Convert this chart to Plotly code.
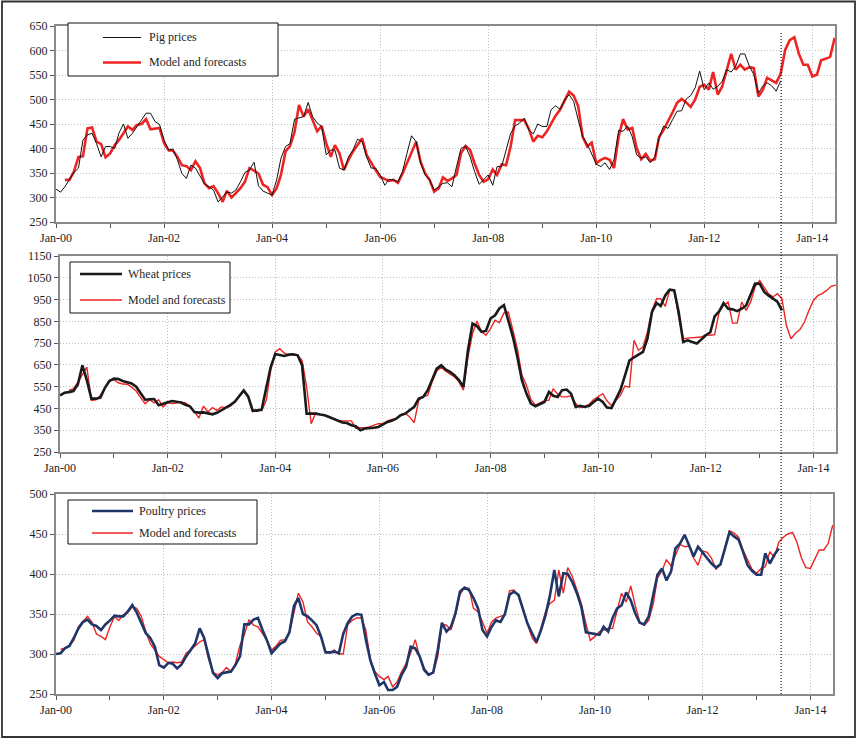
import pandas as pd
import plotly.graph_objects as go

# ---------------------------------------------------------------- data
# Monthly observations start in Jan 2000; the model/forecast runs to Jun 2014.
months = pd.date_range("2000-01-01", periods=174, freq="MS")
forecast_origin = "2013-06-04"

pig_actual = [
    317, 311, 322, 336, 351, 360, 417, 428, 431, 410, 383, 404, 404, 400, 431, 450,
    421, 431, 445, 457, 472, 472, 455, 449, 417, 397, 399, 377, 349, 339, 366, 360,
    343, 328, 322, 315, 291, 302, 311, 309, 315, 332, 351, 356, 372, 324, 313, 309,
    305, 336, 380, 404, 410, 460, 462,
    465, 494, 465, 452, 445, 387, 397, 397, 360, 356, 383, 397, 419, 414, 383, 360,
    360, 346, 325, 337, 336, 332, 353, 390, 426, 414, 370, 346, 336, 315, 322, 329,
    330, 322, 363, 400, 405, 383, 353, 327, 336, 346, 325, 363, 363, 394, 431, 446,
    452, 462, 438, 430, 450, 445, 445, 479, 487, 480, 499, 510, 496, 458, 424, 409,
    390, 368, 363, 371, 357,
    377, 437, 435, 446, 424, 387, 380, 383, 371, 383, 421, 446, 441, 459, 476, 477,
    501, 508, 524, 558, 520, 534, 521, 527, 537, 561, 556, 568, 593, 593, 568, 551,
    513, 528, 534, 528, 517, 538,
]
pig_model_start = 2
pig_model = [
    336, 336, 353, 383, 384, 441, 443, 414, 409, 382, 390, 407, 417, 431, 445, 438,
    448, 450, 460, 439, 441, 442, 411, 396, 396, 383, 366, 364, 356, 374, 360, 329,
    319, 323, 309, 291, 314, 300, 309, 319, 332, 360, 355, 349, 326, 321, 305, 319,
    346, 394, 405, 434, 489,
    465, 480, 458, 435, 446, 411, 383, 407, 390, 356, 377, 394, 407, 421, 387, 370,
    356, 342, 337, 334, 336, 330, 349, 370, 390, 414, 373, 349, 336, 312, 319, 341,
    334, 339, 346, 390, 405, 397, 370, 346, 332, 337, 357, 346, 368, 366, 404, 458,
    458, 458, 441, 414, 426, 423, 435, 450, 467, 479, 499, 516, 508, 486, 424, 404,
    412, 370, 377, 381, 377,
    360, 424, 460, 439, 442, 401, 378, 389, 375, 378, 423, 438, 455, 474, 493, 501,
    494, 485, 500, 526, 530, 520, 556, 510, 526, 560, 593, 561, 571, 561, 566, 564,
    506, 520, 544, 539, 534, 553, 601, 621, 627, 594, 571, 571, 547, 551, 580, 583,
    587, 626,
]

wheat_actual = [
    510, 522, 525, 530, 560, 648, 580, 495, 495, 500, 545, 576, 587, 585, 576, 571,
    565, 550, 520, 490, 492, 493, 465, 470, 478, 484, 480, 477, 467, 460, 434, 431,
    432, 427, 423, 430, 441, 454, 465, 480, 505, 533, 505, 440, 440, 445, 545, 640,
    700, 694, 691, 697,
    699, 694, 648, 426, 426, 426, 422, 419, 411, 403, 396, 385, 383, 373, 368, 350,
    358, 358, 361, 365, 377, 388, 393, 403, 419, 426, 442, 457, 495, 503, 534, 580,
    633, 648, 629, 618, 603, 580, 549, 717, 840, 828, 802, 806, 863, 878, 909, 924,
    855, 779, 687, 580, 518, 472, 460, 469, 480, 526, 508, 503, 534, 537, 518, 457,
    462, 457, 462, 480, 495, 480, 454,
    452, 490, 535, 600, 670, 685, 698, 710, 770, 893, 934, 920, 969, 995, 992, 893,
    755, 763, 755, 748, 766, 786, 800, 873, 896, 934, 908, 905, 897, 908, 923, 977,
    1023, 1023, 985, 969, 954, 940, 900,
]
wheat_model_start = 2
wheat_model = [
    533, 541, 570, 605, 640, 487, 490, 510, 548, 579, 582, 568, 562, 561, 548, 530,
    500, 472, 490, 475, 490, 457, 477, 472, 475, 480, 475, 460, 435, 406, 461, 434,
    454, 441, 457, 454, 460, 480, 505, 530, 500, 435, 445, 440, 487, 625, 709, 724,
    705, 694, 698, 694,
    671, 549, 380, 429, 423, 419, 411, 403, 396, 393, 393, 393, 358, 362, 362, 365,
    373, 380, 380, 393, 399, 403, 419, 429, 411, 385, 488, 503, 511, 572, 622, 639,
    622, 610, 595, 572, 534, 687, 794, 852, 802, 786, 817, 855, 843, 889, 893, 809,
    725, 603, 557, 491, 465, 475, 485, 488, 541, 515, 503, 503, 508, 472, 454, 460,
    469, 491, 503, 518, 485,
    464, 487, 510, 553, 548, 763, 717, 732, 801, 900, 954, 954, 919, 992, 995, 870,
    770, 773, 775, 777, 778, 789, 786, 789, 893, 923, 939, 842, 842, 939, 900, 939,
    1008, 1038, 1008, 977, 962, 977, 954, 832, 770, 795, 812, 847, 900, 946, 969,
    977, 992, 1011, 1016,
]

poultry_actual = [
    300, 301, 307, 310, 320, 332, 340, 343, 337, 335, 330, 337, 342, 348, 347, 347,
    353, 361, 352, 338, 326, 320, 309, 286, 283, 289, 288, 282, 287, 297, 305, 313,
    332, 320, 297, 276, 270, 276, 277, 278, 286, 297, 337, 337, 343, 345, 330, 317,
    301, 307, 313, 316, 327, 360, 370,
    350, 347, 342, 336, 322, 302, 302, 303, 301, 325, 339, 347, 350, 349, 318, 292,
    276, 261, 265, 255, 255, 259, 274, 284, 309, 307, 297, 280, 274, 277, 305, 339,
    328, 334, 351, 378, 383, 380, 370, 357, 330, 322, 334, 342, 340, 350, 374, 378,
    374, 357, 338, 326, 315, 330, 349, 372, 405, 372, 401, 400, 390, 376, 359, 327,
    326, 325, 324, 334, 328,
    345, 357, 361, 377, 367, 351, 339, 337, 347, 374, 399, 407, 392, 403, 432, 438,
    449, 436, 422, 434, 427, 421, 413, 408, 412, 432, 452, 447, 443, 428, 411, 404,
    399, 399, 426, 413, 424, 432,
]
poultry_model_start = 1
poultry_model = [
    306, 307, 311, 317, 334, 340, 347, 340, 325, 322, 318, 334, 347, 342, 349, 352,
    359, 357, 347, 328, 313, 305, 297, 293, 289, 290, 289, 290, 301, 305, 310, 315,
    318, 293, 277, 274, 277, 283, 278, 288, 311, 324, 343, 336, 334, 325, 317, 305,
    310, 317, 318, 326, 350, 376,
    365, 340, 334, 326, 322, 303, 301, 305, 300, 300, 337, 342, 345, 345, 330, 292,
    278, 272, 268, 272, 259, 265, 278, 288, 301, 318, 297, 282, 275, 276, 297, 337,
    336, 330, 349, 374, 383, 382, 357, 353, 340, 326, 340, 345, 347, 349, 379, 380,
    372, 355, 338, 320, 313, 334, 353, 363, 367, 405, 376, 408, 397, 380, 363, 338,
    317, 322, 328, 330, 332,
    332, 355, 376, 365, 385, 361, 340, 336, 342, 363, 395, 404, 418, 410, 424, 437,
    434, 435, 420, 411, 429, 427, 420, 406, 412, 432, 454, 451, 446, 430, 418, 406,
    401, 407, 409, 428, 421, 440, 446, 450, 452, 440, 420, 408, 407, 420, 430, 430,
    438, 461,
]

actual_names = ["Pig prices", "Wheat prices", "Poultry prices"]
model_name = "Model and forecasts"
y_ranges = [(250, 650), (250, 1150), (250, 500)]
y_steps = [50, 100, 50]

# ---------------------------------------------------------------- styling
W, H = 859, 740
FONT = "Liberation Serif, Times New Roman, serif"
TEXT = "#1e1e1e"
RED = "#ee2424"
actual_colors = ["#111111", "#1a1a1a", "#1f3668"]
actual_widths = [1.0, 2.6, 2.6]
model_widths = [2.6, 1.4, 1.4]
GRID = "#bdbdbd"

# panel boxes in pixels: (left, right, top, bottom)
panels = [(56, 835, 26, 222), (60, 836, 256, 452), (56, 833, 494, 694)]
# legend boxes: (left, right, top, bottom, line_x0, line_x1, text_x, row1_y, row2_y)
legend_boxes = [
    (68, 278, 23, 76, 103, 141, 147, 37.5, 62.5),
    (70, 230, 262, 313, 80, 122, 126, 274, 300),
    (68, 257, 500, 544, 92, 133, 137, 511, 533),
]


def fx(px):
    return px / W


def fy(py):
    return 1 - py / H


series = [
    (pig_actual, pig_model, pig_model_start),
    (wheat_actual, wheat_model, wheat_model_start),
    (poultry_actual, poultry_model, poultry_model_start),
]

fig = go.Figure()
layout = dict(
    width=W, height=H,
    margin=dict(l=0, r=0, t=0, b=0, autoexpand=False),
    paper_bgcolor="white", plot_bgcolor="white",
    showlegend=False,
    font=dict(family=FONT, size=12, color=TEXT),
)
shapes = []
annotations = []

for i, (actual, model, start) in enumerate(series):
    k = "" if i == 0 else str(i + 1)
    xa, ya = "x" + k, "y" + k
    fig.add_trace(go.Scatter(
        x=months[start:start + len(model)], y=model, xaxis=xa, yaxis=ya,
        mode="lines", name=model_name,
        line=dict(color=RED, width=model_widths[i]),
    ))
    fig.add_trace(go.Scatter(
        x=months[:len(actual)], y=actual, xaxis=xa, yaxis=ya,
        mode="lines", name=actual_names[i],
        line=dict(color=actual_colors[i], width=actual_widths[i]),
    ))

    left, right, top, bottom = panels[i]
    layout["xaxis" + k] = dict(
        domain=[fx(left), fx(right)], anchor=ya, automargin=False,
        type="date", range=["2000-01-01", "2014-06-03"],
        tick0="2000-01-01", dtick="M24", tickformat="%b-%y",
        ticks="outside", ticklen=4, tickwidth=1, tickcolor="#555555",
        showgrid=True, gridcolor=GRID, griddash="1px,2px", gridwidth=1,
        minor=dict(tick0="2000-01-01", dtick="M12", ticks="outside",
                   ticklen=4, tickcolor="#555555", showgrid=False),
        showline=True, linecolor="#8a8a8a", linewidth=2, mirror=True,
        tickfont=dict(family=FONT, size=12, color=TEXT),
        zeroline=False, fixedrange=True,
    )
    lo, hi = y_ranges[i]
    layout["yaxis" + k] = dict(
        domain=[fy(bottom), fy(top)], anchor=xa, automargin=False,
        range=[lo, hi], tick0=lo, dtick=y_steps[i],
        ticks="outside", ticklen=4, tickwidth=1, tickcolor="#555555",
        showgrid=True, gridcolor=GRID, griddash="1px,2px", gridwidth=1,
        showline=True, linecolor="#8a8a8a", linewidth=2, mirror=True,
        tickfont=dict(family=FONT, size=12, color=TEXT),
        zeroline=False, fixedrange=True,
    )

    # boxed legend
    bl, br, bt, bb, lx0, lx1, tx, r1, r2 = legend_boxes[i]
    shapes.append(dict(type="rect", xref="paper", yref="paper",
                       x0=fx(bl), x1=fx(br), y0=fy(bb), y1=fy(bt),
                       line=dict(color="#111111", width=1), fillcolor="white",
                       layer="above"))
    for yrow, color, width, label in [
        (r1, actual_colors[i], actual_widths[i], actual_names[i]),
        (r2, RED, model_widths[i], model_name),
    ]:
        shapes.append(dict(type="line", xref="paper", yref="paper",
                           x0=fx(lx0), x1=fx(lx1), y0=fy(yrow), y1=fy(yrow),
                           line=dict(color=color, width=width), layer="above"))
        annotations.append(dict(xref="paper", yref="paper", x=fx(tx), y=fy(yrow),
                                text=label, showarrow=False, xanchor="left",
                                yanchor="middle",
                                font=dict(family=FONT, size=12, color=TEXT)))

# forecast origin marker across all three panels
shapes.append(dict(type="line", xref="x", yref="paper",
                   x0=forecast_origin, x1=forecast_origin,
                   y0=fy(694), y1=fy(32),
                   line=dict(color="#111111", width=1.2, dash="1px,2px"),
                   layer="above"))
# outer frame
shapes.append(dict(type="rect", xref="paper", yref="paper",
                   x0=fx(2), x1=fx(855), y0=fy(737), y1=fy(1.5),
                   line=dict(color="#333333", width=1.8), layer="above"))

layout["shapes"] = shapes
layout["annotations"] = annotations
fig.update_layout(**layout)
fig.write_html("out.html")
